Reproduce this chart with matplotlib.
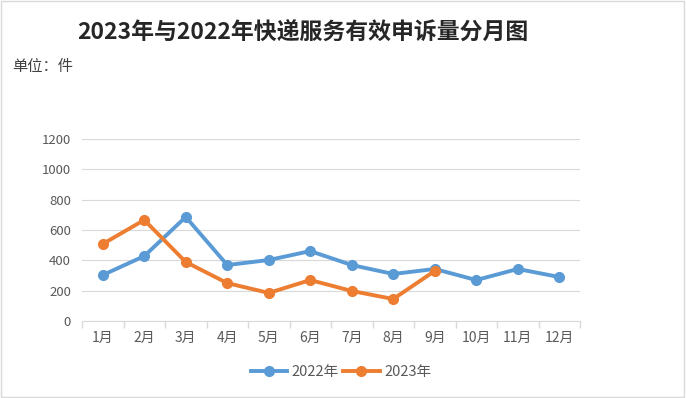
import matplotlib.pyplot as plt
from matplotlib.patches import Rectangle
import numpy as np

plt.rcParams['font.family'] = ['Noto Sans CJK SC', 'DejaVu Sans']

months = ['1月', '2月', '3月', '4月', '5月', '6月', '7月', '8月', '9月', '10月', '11月', '12月']
vals2022 = [303, 428, 686, 369, 402, 461, 369, 310, 343, 270, 343, 290]
vals2023 = [508, 666, 389, 250, 185, 270, 198, 145, 330]
yTicks = [0, 200, 400, 600, 800, 1000, 1200]

textcolor = '#595959'
gridcolor = '#D9D9D9'
blue = '#5B9BD5'
orange = '#ED7D31'

fig = plt.figure(figsize=(6.86, 3.98), dpi=100, facecolor='white')
ax = fig.add_axes([82/686, 1-321/398, (580-82)/686, (321-139)/398])

x = np.arange(len(months))
ax.plot(x, vals2022, color=blue, linewidth=2.8, marker='o', markersize=7, label='2022年')
ax.plot(x[:len(vals2023)], vals2023, color=orange, linewidth=2.8, marker='o', markersize=7, label='2023年')

ax.set_xlim(-0.5, len(months)-0.5)
ax.set_ylim(0, 1200)
ax.set_yticks(yTicks)
ax.set_yticklabels(yTicks, color=textcolor, fontsize=9.5)
ax.set_xticks(x)
ax.set_xticklabels(months, color=textcolor, fontsize=10)
ax.set_xticks(np.arange(-0.5, len(months)), minor=True)
ax.tick_params(axis='x', which='major', length=0, pad=7)
ax.tick_params(axis='x', which='minor', length=5, color=gridcolor, width=1)
ax.tick_params(axis='y', length=0, pad=8)

ax.grid(axis='y', color=gridcolor, linewidth=0.8)
ax.set_axisbelow(True)
for s in ['top', 'right', 'left']:
    ax.spines[s].set_visible(False)
ax.spines['bottom'].set_color(gridcolor)

fig.text(303/686, 1-33/398, '2023年与2022年快递服务有效申诉量分月图', ha='center', va='center',
         fontsize=16.5, fontweight='bold', color='#262626')
fig.text(12/686, 1-66/398, '单位：件', ha='left', va='center', fontsize=11, color='#404040')

fig.legend(loc='center', bbox_to_anchor=(341/686, 1-372/398), ncol=2, frameon=False,
           fontsize=10.5, labelcolor=textcolor, handlelength=2.5, handletextpad=0.3,
           columnspacing=0.3)

fig.patches.append(Rectangle((0.002, 0.003), 0.995, 0.994, transform=fig.transFigure,
                             fill=False, edgecolor=gridcolor, linewidth=1))

plt.savefig('out.png', dpi=100)
